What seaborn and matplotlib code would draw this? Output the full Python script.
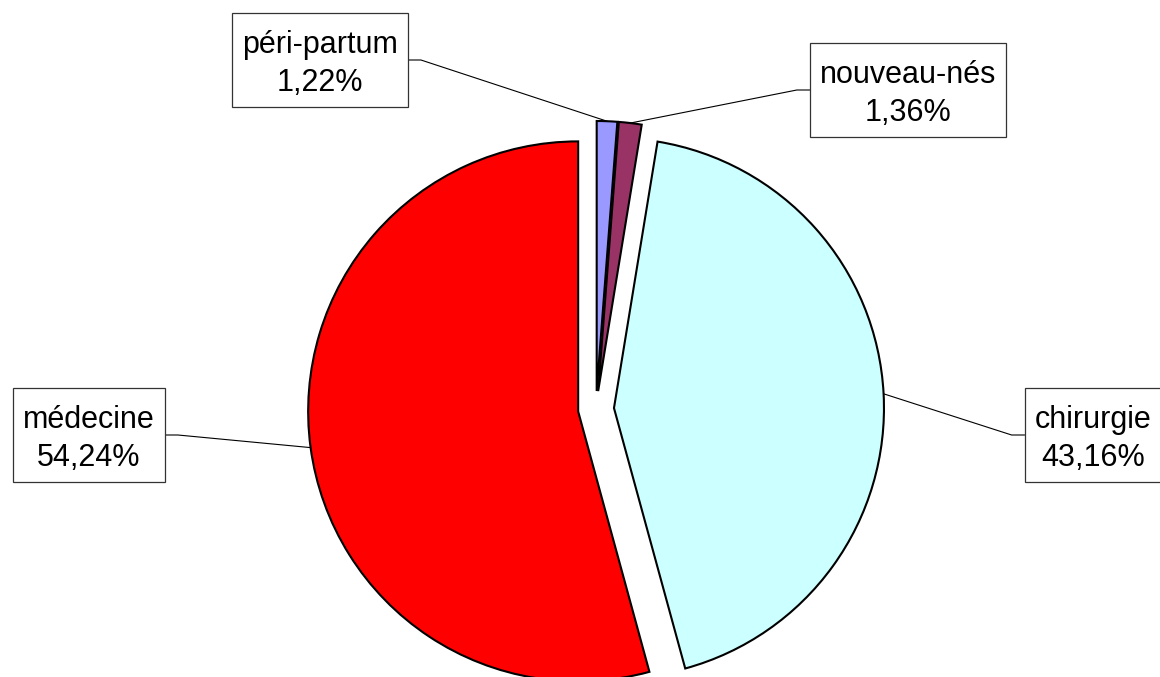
import numpy as np
import matplotlib
matplotlib.use("Agg")
import matplotlib.pyplot as plt
from matplotlib.patches import Rectangle
import seaborn as sns

# data
categories = ["péri-partum", "nouveau-nés", "chirurgie", "médecine"]
shares = [1.22, 1.36, 43.16, 54.24]
colors = ["#9999FF", "#993366", "#CCFFFF", "#FF0000"]

# layout (image pixel coords, y from top)
W, H = 1160, 677
pie_center = (596, 409)
pie_radius = 270
explode_px = 18
box_pad_x = 10
box_height = 94
text_drop = 4  # text sits a little low in its box
label_centers = {
    "péri-partum": (320, 60),
    "nouveau-nés": (908, 90),
    "chirurgie": (1093, 435),
    "médecine": (89, 435),
}

sns.set_theme(style="white")
plt.rcParams["font.family"] = ["Liberation Sans", "DejaVu Sans"]

fig = plt.figure(figsize=(W / 100, H / 100), dpi=100)
ax = fig.add_axes([0, 0, 1, 1])

cx, cy = pie_center[0], H - pie_center[1]
# matplotlib's explode is an absolute offset in data units
ax.pie(
    shares,
    colors=colors,
    startangle=90,
    counterclock=False,
    radius=pie_radius,
    center=(cx, cy),
    explode=[explode_px] * len(shares),
    wedgeprops=dict(edgecolor="black", linewidth=1.5),
)
ax.set_xlim(0, W)
ax.set_ylim(0, H)
ax.set_aspect("auto")
ax.axis("off")

texts = []
anchors = []
cum = 0.0
for name, val in zip(categories, shares):
    theta = np.deg2rad(90 - 360 * (cum + val / 2) / 100)
    cum += val
    r = pie_radius + explode_px
    anchors.append((cx + r * np.cos(theta), cy + r * np.sin(theta)))
    lx, ly = label_centers[name]
    label = f"{name}\n{val:.2f}".replace(".", ",") + "%"
    t = ax.text(lx, H - ly - text_drop, label, ha="center", va="center", fontsize=22,
                linespacing=1.38, color="black", zorder=6)
    texts.append(t)

fig.canvas.draw()
renderer = fig.canvas.get_renderer()
for t, (axx, axy) in zip(texts, anchors):
    ext = t.get_window_extent(renderer)
    x0 = ext.x0 - box_pad_x
    x1 = ext.x1 + box_pad_x
    ty = (ext.y0 + ext.y1) / 2 + text_drop
    ax.add_patch(Rectangle((x0, ty - box_height / 2), x1 - x0, box_height,
                           facecolor="white", edgecolor="#333333", lw=0.9, zorder=5))
    if axx > (x0 + x1) / 2:
        ex, elbow = x1, x1 + 13
    else:
        ex, elbow = x0, x0 - 13
    ax.plot([ex, elbow, axx], [ty, ty, axy], color="black", lw=0.8, zorder=4)

fig.savefig("out.png", dpi=100)
